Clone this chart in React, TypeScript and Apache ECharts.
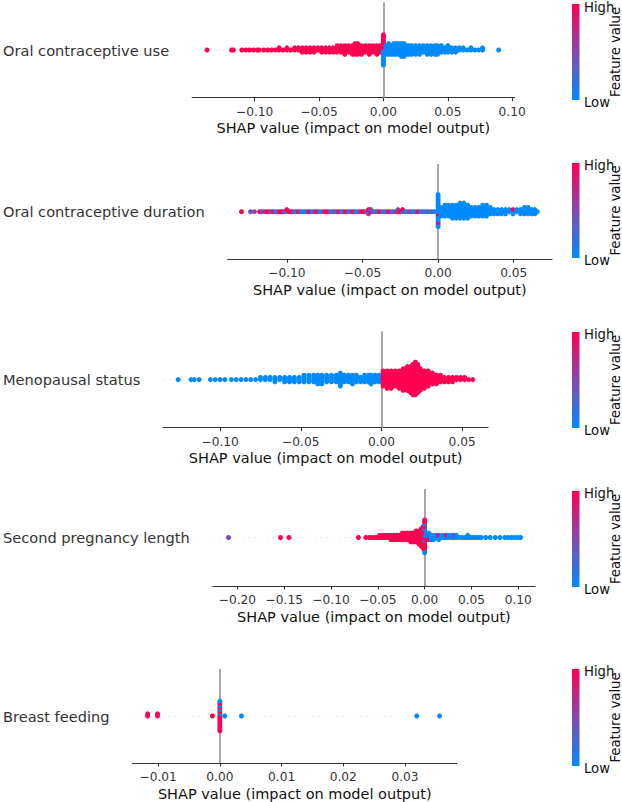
import React, { useEffect, useRef } from "react";
import * as echarts from "echarts";

// ---------- data ----------
const featureNames = [
  "Oral contraceptive use",
  "Oral contraceptive duration",
  "Menopausal status",
  "Second pregnancy length",
  "Breast feeding",
];
const axisTitle = "SHAP value (impact on model output)";
const cbHigh = "High";
const cbLow = "Low";
const cbTitle = "Feature value";

const ticks1 = [-0.1, -0.05, 0, 0.05, 0.1];
const ticks2 = [-0.1, -0.05, 0, 0.05];
const ticks3 = [-0.1, -0.05, 0, 0.05];
const ticks4 = [-0.2, -0.15, -0.1, -0.05, 0, 0.05, 0.1];
const ticks5 = [-0.01, 0, 0.01, 0.02, 0.03];

// bins: [SHAP value, n low-feature points, n high-feature points, n mid-feature points]
const ocUse = [
  [-0.137, 0, 1], [-0.118, 0, 1], [-0.1165, 0, 1],
  [-0.11, 0, 1], [-0.107, 0, 1], [-0.104, 0, 1], [-0.101, 0, 1], [-0.098, 0, 1], [-0.0965, 0, 1],
  [-0.093, 0, 1], [-0.09, 0, 1], [-0.087, 0, 1], [-0.084, 0, 1], [-0.081, 0, 2], [-0.078, 0, 1],
  [-0.075, 0, 2], [-0.072, 0, 1], [-0.069, 0, 2], [-0.066, 0, 2],
  [-0.063, 0, 3], [-0.06, 0, 3], [-0.057, 0, 3], [-0.054, 0, 3], [-0.051, 0, 2], [-0.048, 0, 3],
  [-0.045, 0, 3], [-0.042, 0, 3], [-0.039, 0, 3], [-0.036, 0, 4],
  [-0.033, 0, 4], [-0.03, 0, 5], [-0.027, 0, 4], [-0.024, 0, 5], [-0.022, 0, 6], [-0.02, 0, 6],
  [-0.017, 0, 5], [-0.014, 0, 4], [-0.011, 0, 5], [-0.008, 0, 4], [-0.005, 0, 5], [-0.0025, 0, 4],
  [0, 8, 7],
  [0.002, 5, 0], [0.004, 6, 0], [0.006, 5, 0], [0.008, 6, 0], [0.01, 6, 0], [0.012, 6, 0],
  [0.014, 7, 0], [0.016, 7, 0], [0.018, 5, 0], [0.02, 5, 0], [0.022, 5, 0], [0.025, 5, 0],
  [0.028, 5, 0], [0.031, 4, 0], [0.034, 5, 0], [0.037, 5, 0], [0.04, 5, 0], [0.042, 5, 0],
  [0.045, 4, 0], [0.048, 3, 0], [0.05, 4, 0], [0.053, 3, 0], [0.056, 3, 0], [0.059, 2, 0],
  [0.062, 2, 0], [0.065, 1, 0], [0.068, 2, 0], [0.071, 1, 0], [0.074, 1, 0], [0.077, 2, 0],
  [0.0895, 1, 0],
];

const ocDuration = [
  [-0.13, 0, 1, 0], [-0.124, 0, 0, 1], [-0.1215, 0, 0, 1], [-0.118, 0, 1, 0], [-0.1165, 0, 0, 1], [-0.115, 0, 0, 1],
  [-0.1135, 0, 1, 0], [-0.112, 0, 1, 0], [-0.1105, 0, 0, 1], [-0.109, 0, 1, 0], [-0.1075, 1, 0, 0], [-0.106, 0, 0, 1],
  [-0.1045, 0, 1, 0], [-0.103, 0, 1, 0], [-0.1015, 0, 0, 1], [-0.1, 1, 1, 0], [-0.0985, 0, 1, 0],
  [-0.097, 0, 1, 0], [-0.0955, 0, 0, 1], [-0.094, 1, 0, 0], [-0.0925, 0, 1, 0], [-0.091, 0, 0, 1],
  [-0.0895, 1, 0, 0], [-0.088, 1, 0, 0], [-0.0865, 0, 0, 1], [-0.085, 0, 1, 0], [-0.0835, 1, 0, 0],
  [-0.082, 0, 0, 1], [-0.0805, 0, 1, 0], [-0.079, 0, 0, 1], [-0.0775, 1, 0, 0], [-0.076, 0, 0, 1],
  [-0.0745, 0, 1, 0], [-0.073, 0, 1, 0], [-0.0715, 0, 0, 1], [-0.07, 1, 0, 0], [-0.0685, 0, 0, 1],
  [-0.067, 0, 0, 1], [-0.0655, 0, 1, 0], [-0.064, 1, 0, 0], [-0.0625, 0, 0, 1], [-0.061, 0, 1, 0],
  [-0.0595, 0, 0, 1], [-0.058, 1, 0, 0], [-0.0565, 0, 1, 0], [-0.055, 0, 0, 1], [-0.0535, 1, 0, 0],
  [-0.052, 0, 0, 1], [-0.0505, 0, 1, 0], [-0.049, 0, 1, 0], [-0.0475, 0, 0, 1], [-0.046, 1, 1, 1],
  [-0.0445, 0, 1, 1], [-0.043, 0, 0, 1], [-0.0415, 1, 0, 0], [-0.04, 0, 0, 1], [-0.0385, 0, 1, 0],
  [-0.037, 0, 0, 1], [-0.0355, 1, 0, 0], [-0.034, 0, 0, 1], [-0.0325, 0, 1, 0], [-0.031, 0, 0, 1],
  [-0.0295, 1, 0, 0], [-0.028, 0, 0, 1], [-0.0265, 0, 1, 1], [-0.025, 0, 1, 0], [-0.0235, 1, 1, 0],
  [-0.022, 0, 0, 1], [-0.0205, 1, 0, 0], [-0.019, 0, 0, 1], [-0.0175, 0, 0, 1], [-0.016, 1, 0, 0],
  [-0.0145, 0, 0, 1], [-0.013, 0, 1, 0], [-0.0115, 1, 0, 0], [-0.01, 0, 0, 1], [-0.0085, 1, 0, 0],
  [-0.007, 0, 0, 1], [-0.0055, 1, 0, 0], [-0.004, 0, 0, 1], [-0.0025, 1, 0, 0],
  [0, 14, 2, 0],
  [0.002, 5, 0, 0], [0.0045, 6, 0, 0], [0.007, 6, 0, 0], [0.0095, 7, 0, 0], [0.012, 7, 0, 0],
  [0.0145, 8, 0, 0], [0.017, 8, 0, 0], [0.0195, 7, 0, 0], [0.022, 5, 0, 0], [0.0245, 5, 0, 0],
  [0.027, 5, 0, 0], [0.0295, 6, 0, 0], [0.032, 6, 0, 0], [0.0345, 4, 0, 0], [0.037, 3, 0, 0],
  [0.0395, 3, 0, 0], [0.042, 3, 0, 0], [0.0445, 3, 0, 0], [0.047, 2, 0, 0], [0.0495, 2, 1, 0],
  [0.052, 2, 0, 0], [0.0545, 3, 0, 0], [0.057, 4, 0, 0], [0.0595, 4, 0, 0], [0.062, 3, 0, 0],
  [0.064, 3, 0, 0], [0.0655, 1, 0, 0],
];

const menopause = [
  [-0.126, 1, 0], [-0.118, 1, 0], [-0.116, 1, 0], [-0.113, 1, 0], [-0.106, 1, 0], [-0.103, 1, 0],
  [-0.1, 1, 0], [-0.097, 1, 0], [-0.093, 1, 0], [-0.09, 1, 0], [-0.087, 1, 0], [-0.084, 1, 0],
  [-0.081, 1, 0], [-0.078, 1, 0], [-0.075, 2, 0], [-0.072, 2, 0], [-0.069, 2, 0], [-0.066, 3, 0],
  [-0.063, 2, 0], [-0.06, 3, 0], [-0.057, 3, 0], [-0.054, 3, 0], [-0.051, 3, 0], [-0.048, 4, 0],
  [-0.045, 4, 0], [-0.042, 4, 0], [-0.0395, 5, 0], [-0.037, 5, 0], [-0.034, 4, 0], [-0.031, 4, 0],
  [-0.028, 4, 0], [-0.0255, 7, 0], [-0.023, 4, 0], [-0.0205, 4, 0], [-0.018, 5, 0], [-0.0155, 4, 0],
  [-0.013, 3, 0], [-0.0105, 4, 0], [-0.008, 4, 0], [-0.0065, 5, 0], [-0.004, 4, 0], [-0.0015, 4, 0],
  [0.001, 0, 8], [0.0035, 0, 9], [0.006, 0, 9], [0.0085, 0, 8], [0.011, 0, 9], [0.0135, 0, 11],
  [0.016, 0, 12], [0.018, 0, 13], [0.0195, 0, 15], [0.021, 0, 16], [0.0225, 0, 14], [0.024, 0, 11],
  [0.0265, 0, 9], [0.029, 0, 8], [0.0315, 0, 6], [0.034, 0, 5], [0.0365, 0, 4], [0.039, 0, 3],
  [0.0415, 0, 3], [0.044, 0, 3], [0.0465, 0, 2], [0.049, 0, 2], [0.0515, 0, 2], [0.054, 0, 1],
  [0.0565, 0, 1],
];

const secondPreg = [
  [-0.2095, 0, 0, 1], [-0.154, 0, 1, 0], [-0.145, 0, 1, 0],
  [-0.0707, 0, 1, 0], [-0.0628, 0, 1, 0], [-0.059, 0, 1, 0], [-0.0565, 0, 1, 0], [-0.0535, 0, 1, 0],
  [-0.0505, 0, 1, 0], [-0.048, 0, 2, 0], [-0.045, 0, 2, 0], [-0.042, 0, 2, 0], [-0.039, 0, 2, 0],
  [-0.036, 0, 3, 0], [-0.033, 0, 3, 0], [-0.03, 0, 3, 0], [-0.027, 0, 3, 0], [-0.024, 0, 4, 0],
  [-0.021, 0, 4, 0], [-0.018, 0, 4, 0], [-0.015, 0, 5, 0], [-0.012, 0, 5, 0], [-0.009, 0, 6, 0],
  [-0.006, 0, 7, 0], [-0.0035, 0, 9, 0], [-0.0015, 0, 11, 0],
  [0, 5, 11, 0],
  [0.002, 3, 1, 0], [0.0045, 3, 1, 0], [0.007, 3, 0, 0], [0.0095, 3, 0, 0], [0.012, 2, 0, 0],
  [0.015, 2, 1, 0], [0.018, 2, 0, 0], [0.021, 2, 0, 0], [0.0235, 1, 1, 0], [0.026, 2, 0, 0],
  [0.029, 2, 0, 0], [0.0315, 1, 0, 1], [0.034, 2, 0, 0], [0.037, 1, 0, 0], [0.04, 1, 0, 0],
  [0.043, 1, 0, 0], [0.046, 2, 0, 0], [0.049, 1, 0, 0], [0.052, 1, 0, 0], [0.055, 1, 0, 0],
  [0.0575, 1, 0, 0], [0.0605, 1, 0, 0], [0.0653, 1, 0, 0], [0.07, 1, 0, 0], [0.0754, 1, 0, 0],
  [0.0804, 1, 0, 0], [0.0856, 1, 0, 0], [0.089, 1, 0, 0], [0.0925, 1, 0, 0], [0.096, 1, 0, 0],
  [0.0995, 1, 0, 0], [0.1025, 1, 0, 0],
];

const breastFeeding = [
  [-0.0117, 0, 2], [-0.0101, 0, 2], [-0.0012, 0, 1], [0, 4, 11],
  [0.0008, 1, 0], [0.0035, 1, 0], [0.0319, 1, 0], [0.0356, 1, 0],
];

const panelBins = [ocUse, ocDuration, menopause, secondPreg, breastFeeding];
const panelTicks = [ticks1, ticks2, ticks3, ticks4, ticks5];

// ---------- layout ----------
const FONT = '"DejaVu Sans", "Liberation Sans", sans-serif';
const LAYOUT = [
  { left: 189, width: 325.5, top: 2.3, height: 95.4, xMin: -0.1486, xMax: 0.1018, cbTop: 4, cbBottom: 100, highY: 7 },
  { left: 226, width: 326, top: 164.1, height: 95.2, xMin: -0.1391, xMax: 0.0753, cbTop: 163, cbBottom: 258, highY: 165 },
  { left: 162, width: 326, top: 331.5, height: 96.2, xMin: -0.1352, xMax: 0.066, cbTop: 332, cbBottom: 428, highY: 334 },
  { left: 208, width: 327, top: 489, height: 97, xMin: -0.2263, xMax: 0.1179, cbTop: 491, cbBottom: 587, highY: 493 },
  { left: 130, width: 327, top: 669, height: 96.7, xMin: -0.01415, xMax: 0.03842, cbTop: 669, cbBottom: 766, highY: 671 },
];
const STEP = 0.045; // vertical spacing of stacked points (y axis spans -1..1)

function expandBins(bins: number[][]) {
  const out: number[][] = [];
  for (const t of bins) {
    const x = t[0];
    const nLow = t[1] || 0;
    const nHigh = t[2] || 0;
    const nMid = t[3] || 0;
    const items: { pos: number; fv: number }[] = [];
    const add = (n: number, fv: number) => {
      for (let j = 0; j < n; j++) items.push({ pos: (j + 0.5) / n, fv });
    };
    add(nLow, 0);
    add(nHigh, 1);
    add(nMid, 0.5);
    items.sort((a, b) => a.pos - b.pos);
    items.forEach((it, k) => {
      const layer = k === 0 ? 0 : Math.ceil(k / 2) * (k % 2 === 1 ? 1 : -1);
      out.push([x, layer * STEP, it.fv]);
    });
  }
  return out;
}

const fmt = (v: number) => {
  const s = Math.abs(v).toFixed(2);
  return v < -1e-9 ? "\u2212" + s : s;
};

export default function App() {
  const ref = useRef<HTMLDivElement>(null);
  useEffect(() => {
    if (!ref.current) return;
    const chart = echarts.init(ref.current, undefined, { renderer: "svg" });

    const grids = LAYOUT.map((l) => ({ left: l.left, top: l.top, width: l.width, height: l.height }));
    const xAxes = LAYOUT.map((l, i) => ({
      gridIndex: i,
      type: "value",
      min: l.xMin,
      max: l.xMax,
      axisLine: { show: true, onZero: false, lineStyle: { color: "#333", width: 1.1 } },
      axisTick: { show: true, length: 3.5, customValues: panelTicks[i], lineStyle: { color: "#333", width: 1.1 } },
      axisLabel: {
        customValues: panelTicks[i],
        formatter: (v: number) => fmt(v),
        fontSize: 12.2,
        color: "#333",
        margin: 8,
        fontFamily: FONT,
      },
      splitLine: { show: false },
      name: axisTitle,
      nameLocation: "middle",
      nameGap: 23,
      nameTextStyle: { fontSize: 14.5, color: "#111", fontFamily: FONT },
    }));
    const yAxes = LAYOUT.map((l, i) => ({
      gridIndex: i,
      type: "value",
      min: -1,
      max: 1,
      axisLine: { show: false },
      axisTick: { show: false },
      splitLine: { show: false },
      axisLabel: {
        customValues: [0],
        formatter: () => featureNames[i],
        fontSize: 14.6,
        color: "#333",
        margin: 23,
        fontFamily: FONT,
      },
    }));
    const series = LAYOUT.map((l, i) => ({
      type: "scatter",
      xAxisIndex: i,
      yAxisIndex: i,
      data: expandBins(panelBins[i]),
      symbol: "circle",
      symbolSize: 5,
      z: 3,
      silent: true,
      itemStyle: { opacity: 1 },
      emphasis: { disabled: true },
      markLine: {
        silent: true,
        symbol: "none",
        z: 1,
        label: { show: false },
        emphasis: { disabled: true },
        data: [
          { xAxis: 0, lineStyle: { color: "#999999", width: 1.7, type: "solid" } },
          { yAxis: 0, lineStyle: { color: "#cccccc", width: 0.7, type: [1, 5] } },
        ],
      },
    }));

    const graphics: any[] = [];
    LAYOUT.forEach((l) => {
      graphics.push({
        type: "rect",
        silent: true,
        shape: { x: 572, y: l.cbTop, width: 7.5, height: l.cbBottom - l.cbTop },
        style: {
          fill: new echarts.graphic.LinearGradient(0, 0, 0, 1, [
            { offset: 0, color: "#ff0052" },
            { offset: 0.5, color: "#8549ad" },
            { offset: 1, color: "#008bfb" },
          ]),
        },
      });
      graphics.push({
        type: "text",
        silent: true,
        x: 584,
        y: l.highY,
        style: { text: cbHigh, fontSize: 13.2, fontFamily: FONT, fill: "#111", align: "left", verticalAlign: "middle" },
      });
      graphics.push({
        type: "text",
        silent: true,
        x: 584,
        y: l.cbBottom + 2,
        style: { text: cbLow, fontSize: 13.2, fontFamily: FONT, fill: "#111", align: "left", verticalAlign: "middle" },
      });
      graphics.push({
        type: "text",
        silent: true,
        x: 615.5,
        y: (l.cbTop + l.cbBottom) / 2,
        rotation: Math.PI / 2,
        style: { text: cbTitle, fontSize: 13.2, fontFamily: FONT, fill: "#111", align: "center", verticalAlign: "middle" },
      });
    });

    chart.setOption({
      animation: false,
      backgroundColor: "#ffffff",
      grid: grids,
      xAxis: xAxes,
      yAxis: yAxes,
      visualMap: {
        type: "continuous",
        show: false,
        min: 0,
        max: 1,
        dimension: 2,
        seriesIndex: [0, 1, 2, 3, 4],
        inRange: { color: ["#008bfb", "#8549ad", "#ff0052"] },
      },
      series,
      graphic: graphics,
    });
    return () => chart.dispose();
  }, []);
  return <div ref={ref} style={{ position: "fixed", left: 0, top: 0, width: 622, height: 802, background: "#fff" }} />;
}
